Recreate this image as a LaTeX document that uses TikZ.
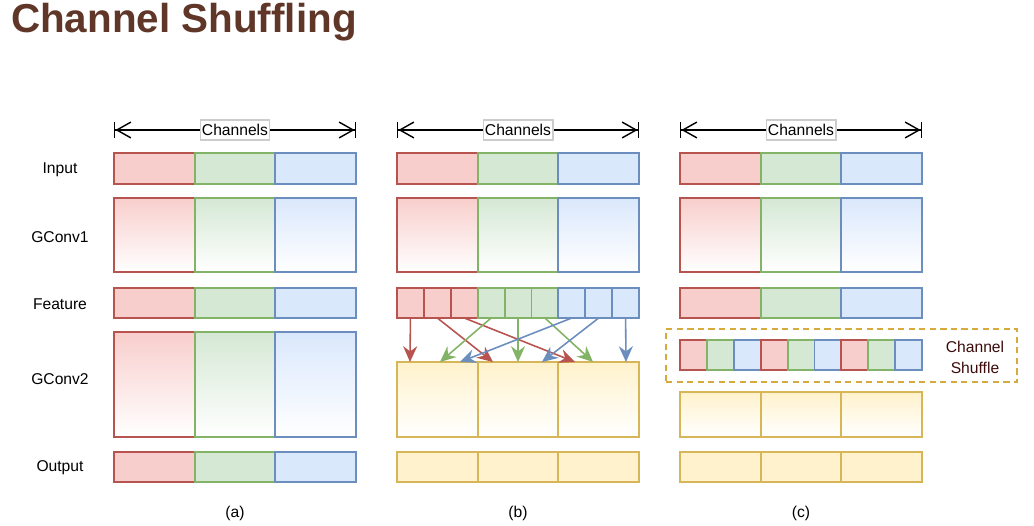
\documentclass[tikz,border=0pt]{standalone}
\usepackage{fontspec}
\setmainfont{Liberation Sans}
\usetikzlibrary{arrows.meta}

\definecolor{rfill}{HTML}{F8CECC}
\definecolor{rline}{HTML}{B85450}
\definecolor{gfill}{HTML}{D5E8D4}
\definecolor{gline}{HTML}{82B366}
\definecolor{bfill}{HTML}{DAE8FC}
\definecolor{bline}{HTML}{6C8EBF}
\definecolor{yfill}{HTML}{FFF2CC}
\definecolor{yline}{HTML}{D6B656}
\definecolor{dashc}{RGB}{214,170,60}
\definecolor{titlec}{RGB}{95,54,40}
\definecolor{shufc}{RGB}{60,10,10}

\begin{document}
\begin{tikzpicture}[x=0.02cm, y=-0.02cm,
    every node/.style={inner sep=0pt, outer sep=0pt},
    txt/.style={font=\fontsize{8.9}{12}\selectfont},
    cell/.style={draw, line width=1.1pt, anchor=north west, minimum width=1.613cm},
    slim/.style={cell, minimum width=0.538cm},
    hin/.style={minimum height=0.62cm},
    hconv/.style={minimum height=1.48cm},
    hfeat/.style={minimum height=0.6cm},
    hbig/.style={minimum height=2.1cm},
    hmid/.style={minimum height=1.5cm},
    hlow/.style={minimum height=0.9cm},
    rcell/.style={fill=rfill, draw=rline},
    gcell/.style={fill=gfill, draw=gline},
    bcell/.style={fill=bfill, draw=bline},
    ycell/.style={fill=yfill, draw=yline},
    rshade/.style={top color=rfill, bottom color=white, draw=rline},
    gshade/.style={top color=gfill, bottom color=white, draw=gline},
    bshade/.style={top color=bfill, bottom color=white, draw=bline},
    yshade/.style={top color=yfill, bottom color=white, draw=yline},
    dim/.style={line width=0.8pt,
        {Bar[width=9pt]Straight Barb[length=8pt,width=9pt]}-{Straight Barb[length=8pt,width=9pt]Bar[width=9pt]}},
    lbl/.style={txt, draw=black!20, fill=white, minimum height=0.4cm, inner xsep=1pt},
    mix/.style={-{Stealth[length=9pt,width=8pt,inset=3pt]}, line width=0.9pt}
 ]
\useasboundingbox (0,0) rectangle (1034,526);

\node[anchor=west, text=titlec, font=\bfseries\fontsize{23}{27}\selectfont] (title) at (11,22) {Channel Shuffling};

% row names
\node[txt] (nIn) at (60,170) {Input};
\node[txt] (nConv1) at (60,237) {GConv1};
\node[txt] (nFeat) at (60,304) {Feature};
\node[txt] (nConv2) at (60,379) {GConv2};
\node[txt] (nOut) at (60,468) {Output};

% (a)
\coordinate (aL) at (114,130);
\coordinate (aR) at (356,130);
\draw[dim] (aL) -- node[lbl] (aCh) {Channels} (aR);
\node[cell, hin, rcell] (aIn1) at (114,153) {};
\node[cell, hin, gcell] (aIn2) at (aIn1.north east) {};
\node[cell, hin, bcell] (aIn3) at (aIn2.north east) {};
\node[cell, hconv, rshade] (aConv1) at (114,198) {};
\node[cell, hconv, gshade] (aConv2) at (aConv1.north east) {};
\node[cell, hconv, bshade] (aConv3) at (aConv2.north east) {};
\node[cell, hfeat, rcell] (aFeat1) at (114,288) {};
\node[cell, hfeat, gcell] (aFeat2) at (aFeat1.north east) {};
\node[cell, hfeat, bcell] (aFeat3) at (aFeat2.north east) {};
\node[cell, hbig, rshade] (aG1) at (114,332) {};
\node[cell, hbig, gshade] (aG2) at (aG1.north east) {};
\node[cell, hbig, bshade] (aG3) at (aG2.north east) {};
\node[cell, hfeat, rcell] (aOut1) at (114,452) {};
\node[cell, hfeat, gcell] (aOut2) at (aOut1.north east) {};
\node[cell, hfeat, bcell] (aOut3) at (aOut2.north east) {};
\node[txt] (capA) at (235,513) {(a)};

% (b)
\coordinate (bL) at (397,130);
\coordinate (bR) at (639,130);
\draw[dim] (bL) -- node[lbl] (bCh) {Channels} (bR);
\node[cell, hin, rcell] (bIn1) at (397,153) {};
\node[cell, hin, gcell] (bIn2) at (bIn1.north east) {};
\node[cell, hin, bcell] (bIn3) at (bIn2.north east) {};
\node[cell, hconv, rshade] (bConv1) at (397,198) {};
\node[cell, hconv, gshade] (bConv2) at (bConv1.north east) {};
\node[cell, hconv, bshade] (bConv3) at (bConv2.north east) {};
\node[slim, hfeat, rcell] (bF1) at (397,288) {};
\node[slim, hfeat, rcell] (bF2) at (bF1.north east) {};
\node[slim, hfeat, rcell] (bF3) at (bF2.north east) {};
\node[slim, hfeat, gcell] (bF4) at (bF3.north east) {};
\node[slim, hfeat, gcell] (bF5) at (bF4.north east) {};
\node[slim, hfeat, gcell] (bF6) at (bF5.north east) {};
\node[slim, hfeat, bcell] (bF7) at (bF6.north east) {};
\node[slim, hfeat, bcell] (bF8) at (bF7.north east) {};
\node[slim, hfeat, bcell] (bF9) at (bF8.north east) {};
\node[cell, hmid, yshade] (bG1) at (397,362) {};
\node[cell, hmid, yshade] (bG2) at (bG1.north east) {};
\node[cell, hmid, yshade] (bG3) at (bG2.north east) {};
\node[cell, hfeat, ycell] (bOut1) at (397,452) {};
\node[cell, hfeat, ycell] (bOut2) at (bOut1.north east) {};
\node[cell, hfeat, ycell] (bOut3) at (bOut2.north east) {};
\node[txt] (capB) at (518,513) {(b)};

\coordinate (t1) at (410,362);
\coordinate (t2) at (440,362);
\coordinate (t3) at (460,362);
\coordinate (t4) at (493,362);
\coordinate (t5) at (518,362);
\coordinate (t6) at (542,362);
\coordinate (t7) at (575,362);
\coordinate (t8) at (593,362);
\coordinate (t9) at (626,362);
\draw[mix, rline] (bF1.south) -- (t1);
\draw[mix, rline] (bF2.south) -- (t4);
\draw[mix, rline] (bF3.south) -- (t7);
\draw[mix, gline] (bF4.south) -- (t2);
\draw[mix, gline] (bF5.south) -- (t5);
\draw[mix, gline] (bF6.south) -- (t8);
\draw[mix, bline] (bF7.south) -- (t3);
\draw[mix, bline] (bF8.south) -- (t6);
\draw[mix, bline] (bF9.south) -- (t9);

% (c)
\coordinate (cL) at (680,130);
\coordinate (cR) at (922,130);
\draw[dim] (cL) -- node[lbl] (cCh) {Channels} (cR);
\node[cell, hin, rcell] (cIn1) at (680,153) {};
\node[cell, hin, gcell] (cIn2) at (cIn1.north east) {};
\node[cell, hin, bcell] (cIn3) at (cIn2.north east) {};
\node[cell, hconv, rshade] (cConv1) at (680,198) {};
\node[cell, hconv, gshade] (cConv2) at (cConv1.north east) {};
\node[cell, hconv, bshade] (cConv3) at (cConv2.north east) {};
\node[cell, hfeat, rcell] (cFeat1) at (680,288) {};
\node[cell, hfeat, gcell] (cFeat2) at (cFeat1.north east) {};
\node[cell, hfeat, bcell] (cFeat3) at (cFeat2.north east) {};
\node[draw=dashc, line width=0.8pt, dash pattern=on 3.5pt off 2.5pt,
      minimum width=7.02cm, minimum height=1.06cm] (cBox) at (841.5,355.5) {};
\node[slim, hfeat, rcell] (cS1) at (680,340) {};
\node[slim, hfeat, gcell] (cS2) at (cS1.north east) {};
\node[slim, hfeat, bcell] (cS3) at (cS2.north east) {};
\node[slim, hfeat, rcell] (cS4) at (cS3.north east) {};
\node[slim, hfeat, gcell] (cS5) at (cS4.north east) {};
\node[slim, hfeat, bcell] (cS6) at (cS5.north east) {};
\node[slim, hfeat, rcell] (cS7) at (cS6.north east) {};
\node[slim, hfeat, gcell] (cS8) at (cS7.north east) {};
\node[slim, hfeat, bcell] (cS9) at (cS8.north east) {};
\node[txt, align=center, text=shufc] (cLbl) at (975,357) {Channel\\Shuffle};
\node[cell, hlow, yshade] (cG1) at (680,392) {};
\node[cell, hlow, yshade] (cG2) at (cG1.north east) {};
\node[cell, hlow, yshade] (cG3) at (cG2.north east) {};
\node[cell, hfeat, ycell] (cOut1) at (680,452) {};
\node[cell, hfeat, ycell] (cOut2) at (cOut1.north east) {};
\node[cell, hfeat, ycell] (cOut3) at (cOut2.north east) {};
\node[txt] (capC) at (801,513) {(c)};
\end{tikzpicture}
\end{document}
